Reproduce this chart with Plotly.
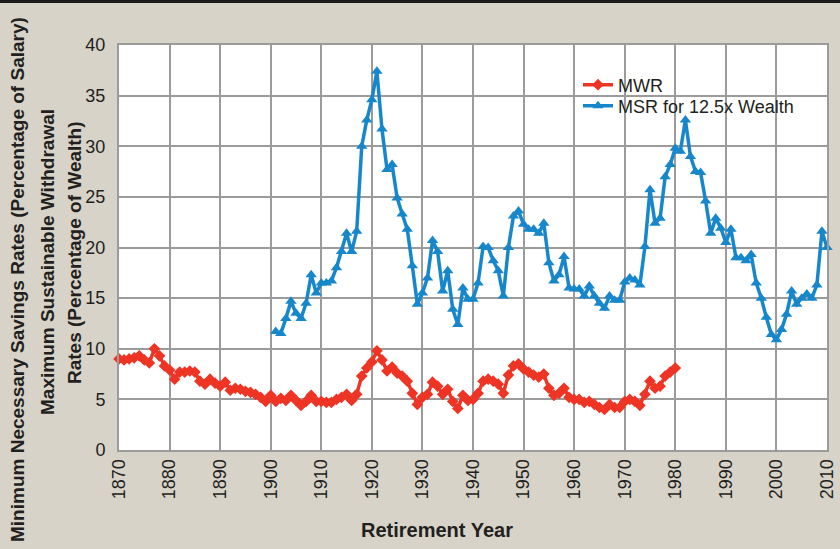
import plotly.graph_objects as go

# ---- data ----
mwr_years = list(range(1870, 1981))
mwr_values = [
    9.0, 8.9, 9.0, 9.1, 9.3, 8.9, 8.6, 10.0, 9.3, 8.3,   # 1870s
    7.9, 7.0, 7.7, 7.7, 7.8, 7.7, 6.8, 6.5, 7.0, 6.6,    # 1880s
    6.3, 6.7, 5.9, 6.1, 6.0, 5.8, 5.7, 5.5, 5.2, 4.8,    # 1890s
    5.4, 4.8, 5.1, 4.9, 5.4, 4.9, 4.4, 4.8, 5.4, 4.8,    # 1900s
    4.8, 4.7, 4.7, 5.0, 5.2, 5.5, 4.9, 5.5, 7.3, 8.1,    # 1910s
    8.7, 9.8, 8.9, 7.8, 8.2, 7.6, 7.3, 6.8, 5.6, 4.5,    # 1920s
    5.2, 5.5, 6.7, 6.3, 5.5, 6.0, 4.8, 4.1, 5.4, 4.9,    # 1930s
    5.0, 5.6, 6.8, 7.0, 6.8, 6.5, 5.6, 7.4, 8.3, 8.5,    # 1940s
    8.0, 7.7, 7.4, 7.2, 7.5, 6.1, 5.4, 5.6, 6.1, 5.2,    # 1950s
    5.0, 5.0, 4.7, 4.8, 4.5, 4.2, 4.0, 4.5, 4.2, 4.2,    # 1960s
    4.8, 5.0, 4.8, 4.4, 5.5, 6.8, 6.1, 6.3, 7.3, 7.7,    # 1970s
    8.1,                                                 # 1980
]

msr_years = list(range(1901, 2011))
msr_values = [
    11.7, 11.5, 13.0, 14.7, 13.5, 13.0, 14.5, 17.3, 15.5,        # 1901-1909
    16.5, 16.5, 16.7, 18.0, 19.6, 21.4, 19.6, 21.6, 30.0, 32.6,  # 1910s
    34.6, 37.4, 31.7, 27.7, 28.2, 24.9, 23.3, 21.8, 18.2, 14.4,  # 1920s
    15.5, 17.0, 20.7, 19.6, 15.7, 17.7, 13.9, 12.4, 16.0, 14.9,  # 1930s
    14.9, 16.5, 20.1, 20.0, 18.7, 17.7, 15.2, 20.0, 23.1, 23.6,  # 1940s
    22.3, 21.8, 21.8, 21.4, 22.4, 18.5, 16.7, 17.3, 19.1, 16.0,  # 1950s
    15.9, 15.9, 15.2, 16.2, 15.2, 14.5, 14.0, 15.2, 14.8, 14.8,  # 1960s
    16.6, 17.0, 16.8, 16.3, 20.1, 25.7, 22.4, 22.9, 27.0, 28.2,  # 1970s
    29.8, 29.5, 32.6, 29.0, 27.5, 27.4, 24.6, 21.4, 22.9, 21.9,  # 1980s
    20.5, 21.8, 19.0, 19.0, 18.7, 19.3, 16.5, 15.0, 13.1, 11.4,  # 1990s
    10.9, 11.9, 13.4, 15.7, 14.4, 15.0, 15.4, 15.0, 16.3, 21.6,  # 2000s
    20.0,                                                        # 2010
]

x_ticks = list(range(1870, 2011, 10))
y_ticks = list(range(0, 41, 5))

RED = "#ee3424"
BLUE = "#1787cc"
TEXT = "#231f20"
GRID = "#9b9b9b"
BG = "#d7d3c8"
FONT = "Liberation Sans, Arial, sans-serif"

L, R, T, B = 119, 13, 45, 99
W, H = 840, 549
pw, ph = W - L - R, H - T - B

def px_to_paper_x(px):
    return (px - L) / pw

def px_to_paper_y(py):
    return (H - B - py) / ph

fig = go.Figure()
fig.add_trace(go.Scatter(
    x=mwr_years, y=mwr_values, name="MWR", mode="lines+markers",
    line=dict(color=RED, width=3.5),
    marker=dict(symbol="diamond", size=9, color=RED),
    cliponaxis=False, legend="legend",
))
fig.add_trace(go.Scatter(
    x=msr_years, y=msr_values, name="MSR for 12.5x Wealth", mode="lines+markers",
    line=dict(color=BLUE, width=3.5),
    marker=dict(symbol="triangle-up", size=10, color=BLUE),
    cliponaxis=False, legend="legend2",
))

leg_common = dict(xanchor="left", yanchor="middle", bgcolor="rgba(0,0,0,0)",
                  font=dict(size=18, color=TEXT, family=FONT), itemwidth=30,
                  borderwidth=0)

fig.update_layout(
    width=W, height=H,
    margin=dict(l=L, r=R, t=T, b=B, autoexpand=False),
    paper_bgcolor=BG, plot_bgcolor="white",
    font=dict(family=FONT, color=TEXT, size=17),
    showlegend=True,
    legend=dict(x=px_to_paper_x(578), y=px_to_paper_y(85), **leg_common),
    legend2=dict(x=px_to_paper_x(578), y=px_to_paper_y(106), **leg_common),
    xaxis=dict(
        range=[1870, 2010], tickvals=x_ticks, ticktext=[str(v) for v in x_ticks],
        tickangle=-90, showgrid=True, gridcolor=GRID, gridwidth=2,
        showline=True, linecolor=GRID, linewidth=2, mirror=True, automargin=False,
        zeroline=False, ticks="", tickfont=dict(size=18, family=FONT, color=TEXT),
    ),
    yaxis=dict(
        range=[0, 40], tickvals=y_ticks, showgrid=True, gridcolor=GRID, gridwidth=2,
        showline=True, linecolor=GRID, linewidth=2, mirror=True, automargin=False,
        zeroline=False, ticks="", ticklabelstandoff=8,
        tickfont=dict(size=18, family=FONT, color=TEXT),
    ),
)

title_font = dict(family=FONT, size=19, color=TEXT)
fig.add_annotation(text="<b>Minimum Necessary Savings Rates (Percentage of Salary)</b>",
                   xref="paper", yref="paper", x=px_to_paper_x(17), y=px_to_paper_y(280),
                   textangle=-90, showarrow=False, font=title_font,
                   xanchor="center", yanchor="middle")
fig.add_annotation(text="<b>Maximum Sustainable Withdrawal</b>",
                   xref="paper", yref="paper", x=px_to_paper_x(47), y=px_to_paper_y(262),
                   textangle=-90, showarrow=False, font=title_font,
                   xanchor="center", yanchor="middle")
fig.add_annotation(text="<b>Rates (Percentage of Wealth)</b>",
                   xref="paper", yref="paper", x=px_to_paper_x(75), y=px_to_paper_y(253),
                   textangle=-90, showarrow=False, font=title_font,
                   xanchor="center", yanchor="middle")
fig.add_annotation(text="<b>Retirement Year</b>",
                   xref="paper", yref="paper", x=px_to_paper_x(437), y=px_to_paper_y(530),
                   showarrow=False, font=dict(family=FONT, size=20, color=TEXT),
                   xanchor="center", yanchor="middle")

# thin dark rule along the top edge of the picture
fig.add_shape(type="rect", xref="paper", yref="paper",
              x0=px_to_paper_x(0), x1=px_to_paper_x(W),
              y0=px_to_paper_y(3), y1=px_to_paper_y(0),
              fillcolor="#1a1a1a", line=dict(width=0), layer="above")

fig.write_html(
    "out.html",
    config={"displayModeBar": False},
    post_script="document.body.style.margin='0';document.body.style.padding='0';"
                "document.body.style.background='%s';" % BG,
)
